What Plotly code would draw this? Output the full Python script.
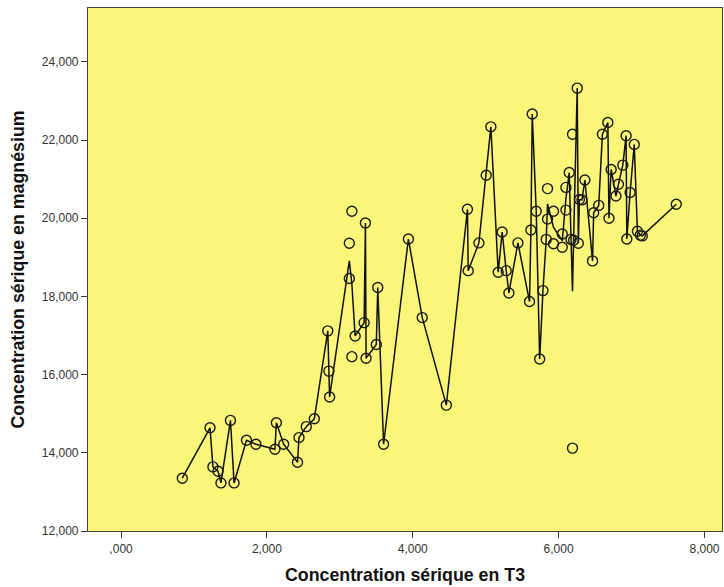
import plotly.graph_objects as go
import pandas as pd

# Concentration sérique en T3 (x) and en magnésium (y)
t3 = [0.84, 1.22, 1.26, 1.33, 1.37, 1.50, 1.55, 1.72, 1.85, 2.11, 2.13, 2.23, 2.42, 2.44,
      2.54, 2.65, 2.835, 2.85, 2.86, 3.13, 3.13, 3.165, 3.165, 3.21, 3.333, 3.351, 3.36,
      3.50, 3.52, 3.60, 3.94, 4.13, 4.46, 4.75, 4.76, 4.907, 5.007, 5.071, 5.171, 5.226,
      5.281, 5.318, 5.442, 5.601, 5.62, 5.638, 5.693, 5.74, 5.785, 5.83, 5.848, 5.848,
      5.93, 5.93, 6.05, 6.05, 6.10, 6.10, 6.145, 6.17, 6.19, 6.19, 6.205, 6.255, 6.27,
      6.285, 6.32, 6.36, 6.465, 6.48, 6.55, 6.60, 6.675, 6.69, 6.72, 6.786, 6.82, 6.88,
      6.925, 6.935, 6.98, 7.037, 7.08, 7.12, 7.147, 7.613]
mg = [13.35, 14.64, 13.64, 13.53, 13.23, 14.83, 13.23, 14.32, 14.22, 14.09, 14.77, 14.22,
      13.76, 14.39, 14.67, 14.87, 17.12, 16.09, 15.43, 19.36, 18.46, 20.18, 16.46, 16.99,
      17.33, 19.88, 16.42, 16.77, 18.23, 14.22, 19.47, 17.46, 15.22, 20.23, 18.66, 19.37,
      21.10, 22.34, 18.62, 19.65, 18.66, 18.09, 19.37, 17.87, 19.70, 22.67, 20.18, 16.40,
      18.15, 19.46, 19.98, 20.76, 20.18, 19.35, 19.26, 19.60, 20.79, 20.21, 21.17, 19.46,
      22.15, 14.12, 19.44, 23.33, 19.36, 20.48, 20.47, 20.98, 18.91, 20.14, 20.33, 22.15,
      22.45, 20.00, 21.25, 20.57, 20.87, 21.36, 22.11, 19.47, 20.66, 21.89, 19.67, 19.57,
      19.55, 20.36]

x_ticks = [0, 2, 4, 6, 8]
x_ticktext = [",000", "2,000", "4,000", "6,000", "8,000"]
y_ticks = [12, 14, 16, 18, 20, 22, 24]
y_ticktext = ["12,000", "14,000", "16,000", "18,000", "20,000", "22,000", "24,000"]

df = pd.DataFrame({"x": t3, "y": mg})
line_df = df.groupby("x", as_index=False)["y"].mean().sort_values("x")

fig = go.Figure()
fig.add_trace(go.Scatter(x=line_df["x"], y=line_df["y"], mode="lines",
                         line=dict(color="#111111", width=1.5), hoverinfo="skip"))
fig.add_trace(go.Scatter(x=df["x"], y=df["y"], mode="markers",
                         marker=dict(symbol="circle-open", size=10,
                                     color="#1a1a1a", line=dict(width=1.4))))

font_tick = dict(family="Liberation Sans, Arial, sans-serif", size=12, color="#333333")
font_title = dict(family="Liberation Sans, Arial, sans-serif", size=17.8, color="#111111")

fig.update_layout(
    width=724, height=587,
    margin=dict(l=88, r=2, t=8, b=56),
    paper_bgcolor="white",
    plot_bgcolor="#FAF67A",
    showlegend=False,
    xaxis=dict(range=[-0.453, 8.24], tickvals=x_ticks, ticktext=x_ticktext,
               showgrid=False, zeroline=False, showline=True, mirror=True,
               linecolor="#444444", linewidth=1.2, ticks="outside", ticklen=6,
               tickcolor="#333333", tickfont=font_tick,
               title=dict(text="<b>Concentration sérique en T3</b>", font=font_title, standoff=14)),
    yaxis=dict(range=[12, 25.38], tickvals=y_ticks, ticktext=y_ticktext,
               showgrid=False, zeroline=False, showline=True, mirror=True,
               linecolor="#444444", linewidth=1.2, ticks="outside", ticklen=6,
               tickcolor="#333333", tickfont=font_tick,
               title=dict(text="<b>Concentration sérique en magnésium</b>", font=font_title, standoff=12)),
)

fig.write_html("out.html")
